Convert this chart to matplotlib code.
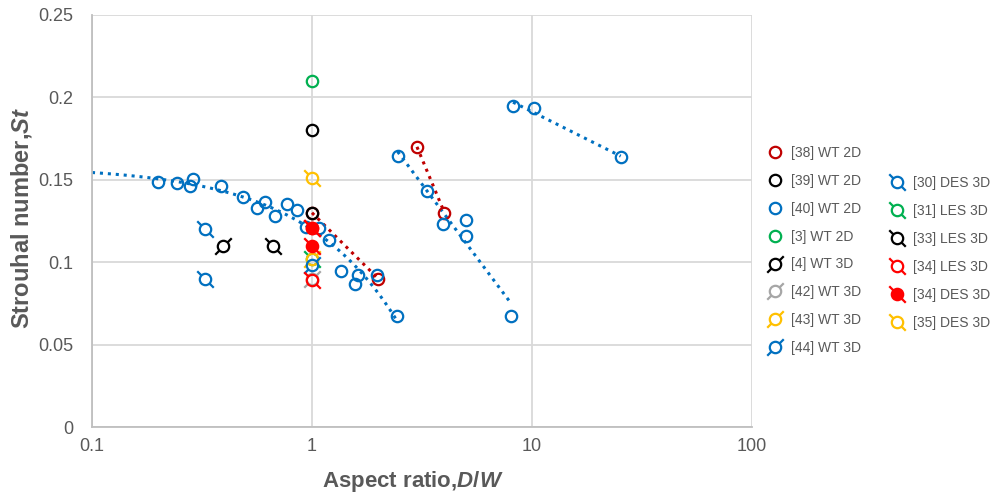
import numpy as np
import matplotlib
matplotlib.use("Agg")
import matplotlib.pyplot as plt
from matplotlib.path import Path
from matplotlib.lines import Line2D

plt.rcParams['font.family'] = ['Liberation Sans', 'DejaVu Sans']
plt.rcParams['mathtext.fontset'] = 'custom'
plt.rcParams['mathtext.it'] = 'Liberation Sans:italic:bold'
plt.rcParams['mathtext.rm'] = 'Liberation Sans:bold'

# ---- data: aspect ratio D/W and Strouhal number St ----
ref38_a_x = [1.0, 2.0]
ref38_a_st = [0.13, 0.09]
ref38_b_x = [3.0, 4.0]
ref38_b_st = [0.17, 0.13]

ref39_x = [1.0, 1.0]
ref39_st = [0.18, 0.13]

ref40_a_x = [0.2, 0.243, 0.288, 0.279, 0.387, 0.488, 0.565, 0.609, 0.677, 0.768,
             0.853, 0.94, 1.08, 1.2, 1.36, 1.57, 1.61, 1.97, 2.43]
ref40_a_st = [0.1487, 0.148, 0.1505, 0.1462, 0.1462, 0.1396, 0.1329, 0.1365, 0.128, 0.1353,
              0.1317, 0.1214, 0.1208, 0.1135, 0.0947, 0.0868, 0.0922, 0.092, 0.0674]
ref40_b_x = [2.45, 3.33, 3.95, 5.0, 5.0, 8.0]
ref40_b_st = [0.1644, 0.143, 0.123, 0.1256, 0.116, 0.0674]
ref40_c_x = [8.2, 10.2, 25.3]
ref40_c_st = [0.1948, 0.1936, 0.1638]

ref3_x = [1.0]
ref3_st = [0.21]

ref4_x = [0.395]
ref4_st = [0.11]
ref42_x = [1.0]
ref42_st = [0.09]
ref43_x = [1.0]
ref43_st = [0.102]
ref44_x = [1.0]
ref44_st = [0.098]

ref30_x = [0.325, 0.325]
ref30_st = [0.12, 0.09]
ref31_x = [1.0]
ref31_st = [0.102]
ref33_x = [0.665]
ref33_st = [0.11]
ref34les_x = [1.0, 1.0]
ref34les_st = [0.121, 0.089]
ref34des_x = [1.0, 1.0]
ref34des_st = [0.121, 0.11]
ref35_x = [1.0]
ref35_st = [0.151]

# ---- colours ----
DARKRED = '#C00000'
BLUE = '#0070C0'
GREEN = '#00B050'
GRAY = '#A6A6A6'
YELLOW = '#FFC000'
RED = '#FF0000'
BLACK = '#000000'
TEXT = '#595959'

R_OUT = 2.05  # length of the diagonal ticks, in circle radii


def slashed_circle(up=True):
    """Open circle with diagonal ticks outside the rim."""
    c = Path.unit_circle()
    r1, r2 = 1.0, R_OUT
    k = np.sqrt(0.5)
    s = 1 if up else -1
    seg1 = Path([(-k * r1, -s * k * r1), (-k * r2, -s * k * r2)], [Path.MOVETO, Path.LINETO])
    seg2 = Path([(k * r1, s * k * r1), (k * r2, s * k * r2)], [Path.MOVETO, Path.LINETO])
    return Path.make_compound_path(c, seg1, seg2)


UP = slashed_circle(True)
DOWN = slashed_circle(False)

MS = 8.2
MS_SL = MS * R_OUT * np.sqrt(0.5)
MEW = 1.6

fig = plt.figure(figsize=(9.93, 4.99), dpi=100)
ax = fig.add_axes([92 / 993, 1 - 427 / 499, 660 / 993, 412 / 499])
ax.set_xscale('log')
ax.set_xlim(0.1, 100)
ax.set_ylim(0, 0.25)

# ---- trend lines ----
dot = dict(linestyle=(0, (1, 1.6)), linewidth=2.2, zorder=2)

# linear trend (St vs D/W) extended back to 0.1
p = np.polyfit(ref40_a_x, ref40_a_st, 1)
xx = np.linspace(0.1, max(ref40_a_x), 300)
ax.plot(xx, np.polyval(p, xx), color=BLUE, **dot)

# logarithmic trends (St vs log D/W)
for xs, ys, col in [(ref40_b_x, ref40_b_st, BLUE), (ref40_c_x, ref40_c_st, BLUE),
                    (ref38_a_x, ref38_a_st, DARKRED), (ref38_b_x, ref38_b_st, DARKRED)]:
    q = np.polyfit(np.log10(xs), ys, 1)
    xx = np.logspace(np.log10(min(xs)), np.log10(max(xs)), 100)
    ax.plot(xx, np.polyval(q, np.log10(xx)), color=col, **dot)


def pts(xs, ys, marker, color, label, filled=False, ms=MS):
    ax.plot(xs, ys, linestyle='none', marker=marker, markersize=ms,
            markeredgewidth=MEW, markeredgecolor=color,
            markerfacecolor=color if filled else 'none', zorder=3)
    return Line2D([], [], linestyle='none', marker=marker, markersize=ms,
                  markeredgewidth=MEW, markeredgecolor=color,
                  markerfacecolor=color if filled else 'none', label=label)


h1 = []
h1.append(pts(ref38_a_x + ref38_b_x, ref38_a_st + ref38_b_st, 'o', DARKRED, '[38] WT 2D'))
h1.append(pts(ref39_x, ref39_st, 'o', BLACK, '[39] WT 2D'))
h1.append(pts(ref40_a_x + ref40_b_x + ref40_c_x, ref40_a_st + ref40_b_st + ref40_c_st,
              'o', BLUE, '[40] WT 2D'))
h1.append(pts(ref3_x, ref3_st, 'o', GREEN, '[3] WT 2D'))
h1.append(pts(ref4_x, ref4_st, UP, BLACK, '[4] WT 3D', ms=MS_SL))
h1.append(pts(ref42_x, ref42_st, UP, GRAY, '[42] WT 3D', ms=MS_SL))

h2 = []
h2.append(pts(ref30_x, ref30_st, DOWN, BLUE, '[30] DES 3D', ms=MS_SL))
h2.append(pts(ref31_x, ref31_st, DOWN, GREEN, '[31] LES 3D', ms=MS_SL))
h1.append(pts(ref43_x, ref43_st, UP, YELLOW, '[43] WT 3D', ms=MS_SL))
h1.append(pts(ref44_x, ref44_st, UP, BLUE, '[44] WT 3D', ms=MS_SL))
h2.append(pts(ref33_x, ref33_st, DOWN, BLACK, '[33] LES 3D', ms=MS_SL))
h2.append(pts(ref34les_x, ref34les_st, DOWN, RED, '[34] LES 3D', ms=MS_SL))
h2.append(pts(ref34des_x, ref34des_st, DOWN, RED, '[34] DES 3D', filled=True, ms=MS_SL))
h2.append(pts(ref35_x, ref35_st, DOWN, YELLOW, '[35] DES 3D', ms=MS_SL))

# ---- axes styling ----
ax.set_yticks([0, 0.05, 0.1, 0.15, 0.2, 0.25])
ax.set_yticklabels(['0', '0.05', '0.1', '0.15', '0.2', '0.25'])
ax.set_xticks([0.1, 1, 10, 100])
ax.set_xticklabels(['0.1', '1', '10', '100'])
ax.minorticks_off()
ax.tick_params(axis='both', length=0, labelsize=13, labelcolor=TEXT)
ax.tick_params(axis='y', pad=13.5)
ax.tick_params(axis='x', pad=8)
ax.grid(True, color='#D9D9D9', linewidth=1.3)
ax.set_axisbelow(True)
for s in ['top', 'right']:
    ax.spines[s].set_visible(False)
for s in ['left', 'bottom']:
    ax.spines[s].set_color('#BFBFBF')
    ax.spines[s].set_linewidth(1.3)

fig.text(413 / 993, 1 - 482 / 499, r'Aspect ratio,$\mathit{D/W}$', ha='center', va='center',
         fontsize=16, fontweight='bold', color=TEXT)
fig.text(22 / 993, 1 - 218 / 499, r'Strouhal number,$\mathit{St}$', ha='center', va='center',
         rotation=90, fontsize=17, fontweight='bold', color=TEXT)

leg_kw = dict(frameon=False, fontsize=10, labelcolor=TEXT, handlelength=1.0,
              handletextpad=0.65, labelspacing=1.0, borderpad=0, borderaxespad=0,
              numpoints=1, loc='center left')
leg1 = fig.legend(handles=h1, bbox_to_anchor=(768 / 993, 1 - 250.5 / 499), **leg_kw)
leg2 = fig.legend(handles=h2, bbox_to_anchor=(890 / 993, 1 - 253 / 499), **leg_kw)

fig.savefig('out.png', dpi=100)
